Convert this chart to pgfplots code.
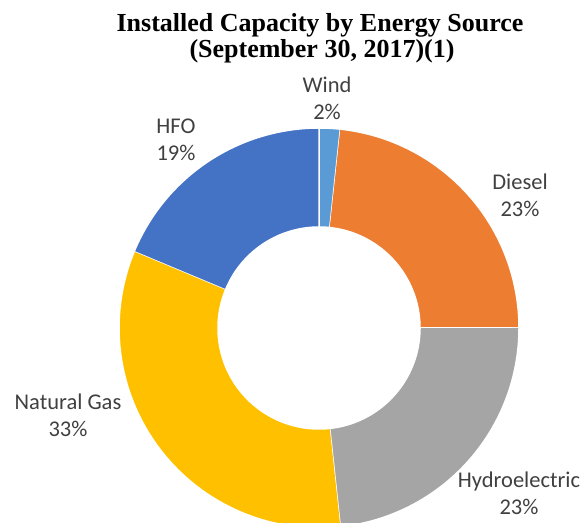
\documentclass[border=0pt]{standalone}
\usepackage{pgfplots}
\pgfplotsset{compat=1.18}
\usepackage{pgfplotstable}
\usepackage{fontspec}
\newfontfamily\titlefont{Liberation Serif}
\newfontfamily\labelfont{Carlito}
\definecolor{cWind}{HTML}{5B9BD5}
\definecolor{cDiesel}{HTML}{ED7D31}
\definecolor{cHydro}{HTML}{A5A5A5}
\definecolor{cGas}{HTML}{FFC000}
\definecolor{cHFO}{HTML}{4472C4}
\definecolor{labelgray}{HTML}{404040}

\pgfplotstableread{
source value
Wind 1.7
Diesel 23.3
Hydroelectric 23.3
NaturalGas 33.0
HFO 18.7
}\sharetable

\pgfplotstablegetelem{0}{value}\of\sharetable \edef\vA{\pgfplotsretval}%
\pgfplotstablegetelem{1}{value}\of\sharetable \edef\vB{\pgfplotsretval}%
\pgfplotstablegetelem{2}{value}\of\sharetable \edef\vC{\pgfplotsretval}%
\pgfplotstablegetelem{3}{value}\of\sharetable \edef\vD{\pgfplotsretval}%
\pgfplotstablegetelem{4}{value}\of\sharetable \edef\vE{\pgfplotsretval}%
\pgfmathsetmacro\cA{0}%
\pgfmathsetmacro\cB{\cA+\vA}%
\pgfmathsetmacro\cC{\cB+\vB}%
\pgfmathsetmacro\cD{\cC+\vC}%
\pgfmathsetmacro\cE{\cD+\vD}%
\pgfmathsetmacro\cF{\cE+\vE}%

\def\cx{319}
\def\cy{194}
\def\Ro{200}
\def\Ri{101}

\newcommand\slice[3]{%
\addplot[fill=#3, draw=white, line width=1.5pt, domain=0:200, samples=201, variable=\t]
 ({\cx + ((\t<100.5) ? \Ro : \Ri)*cos(90-3.6*((\t<100.5) ? (#1+(#2-#1)*\t/100) : (#2-(#2-#1)*(\t-101)/99)))},
  {\cy + ((\t<100.5) ? \Ro : \Ri)*sin(90-3.6*((\t<100.5) ? (#1+(#2-#1)*\t/100) : (#2-(#2-#1)*(\t-101)/99)))});
}

\begin{document}
\begin{tikzpicture}
\begin{axis}[name=ax, at={(0pt,0pt)}, anchor=south west, scale only axis,
  width=585pt, height=522pt, xmin=0, xmax=585, ymin=0, ymax=522,
  hide axis, clip=true]
\slice{\cA}{\cB}{cWind}
\slice{\cB}{\cC}{cDiesel}
\slice{\cC}{\cD}{cHydro}
\slice{\cD}{\cE}{cGas}
\slice{\cE}{\cF}{cHFO}
\node[font=\titlefont\bfseries\fontsize{26}{26}\selectfont, anchor=base] at (axis cs:320,490) {Installed Capacity by Energy Source};
\node[font=\titlefont\bfseries\fontsize{26}{26}\selectfont, anchor=base] at (axis cs:322,464) {(September 30, 2017)(1)};
\tikzset{lab/.style={font=\labelfont\fontsize{22.5}{27}\selectfont, text=labelgray, align=center, inner sep=0pt}}
\node[lab] at (axis cs:327,423.5) {Wind\\2\%};
\node[lab] at (axis cs:176,382.5) {HFO\\19\%};
\node[lab] at (axis cs:520,327) {Diesel\\23\%};
\node[lab] at (axis cs:68,107) {Natural Gas\\33\%};
\node[lab] at (axis cs:519,28.5) {Hydroelectric\\23\%};
\end{axis}
\pgfresetboundingbox
\useasboundingbox (ax.south west) rectangle (ax.north east);
\end{tikzpicture}
\end{document}
